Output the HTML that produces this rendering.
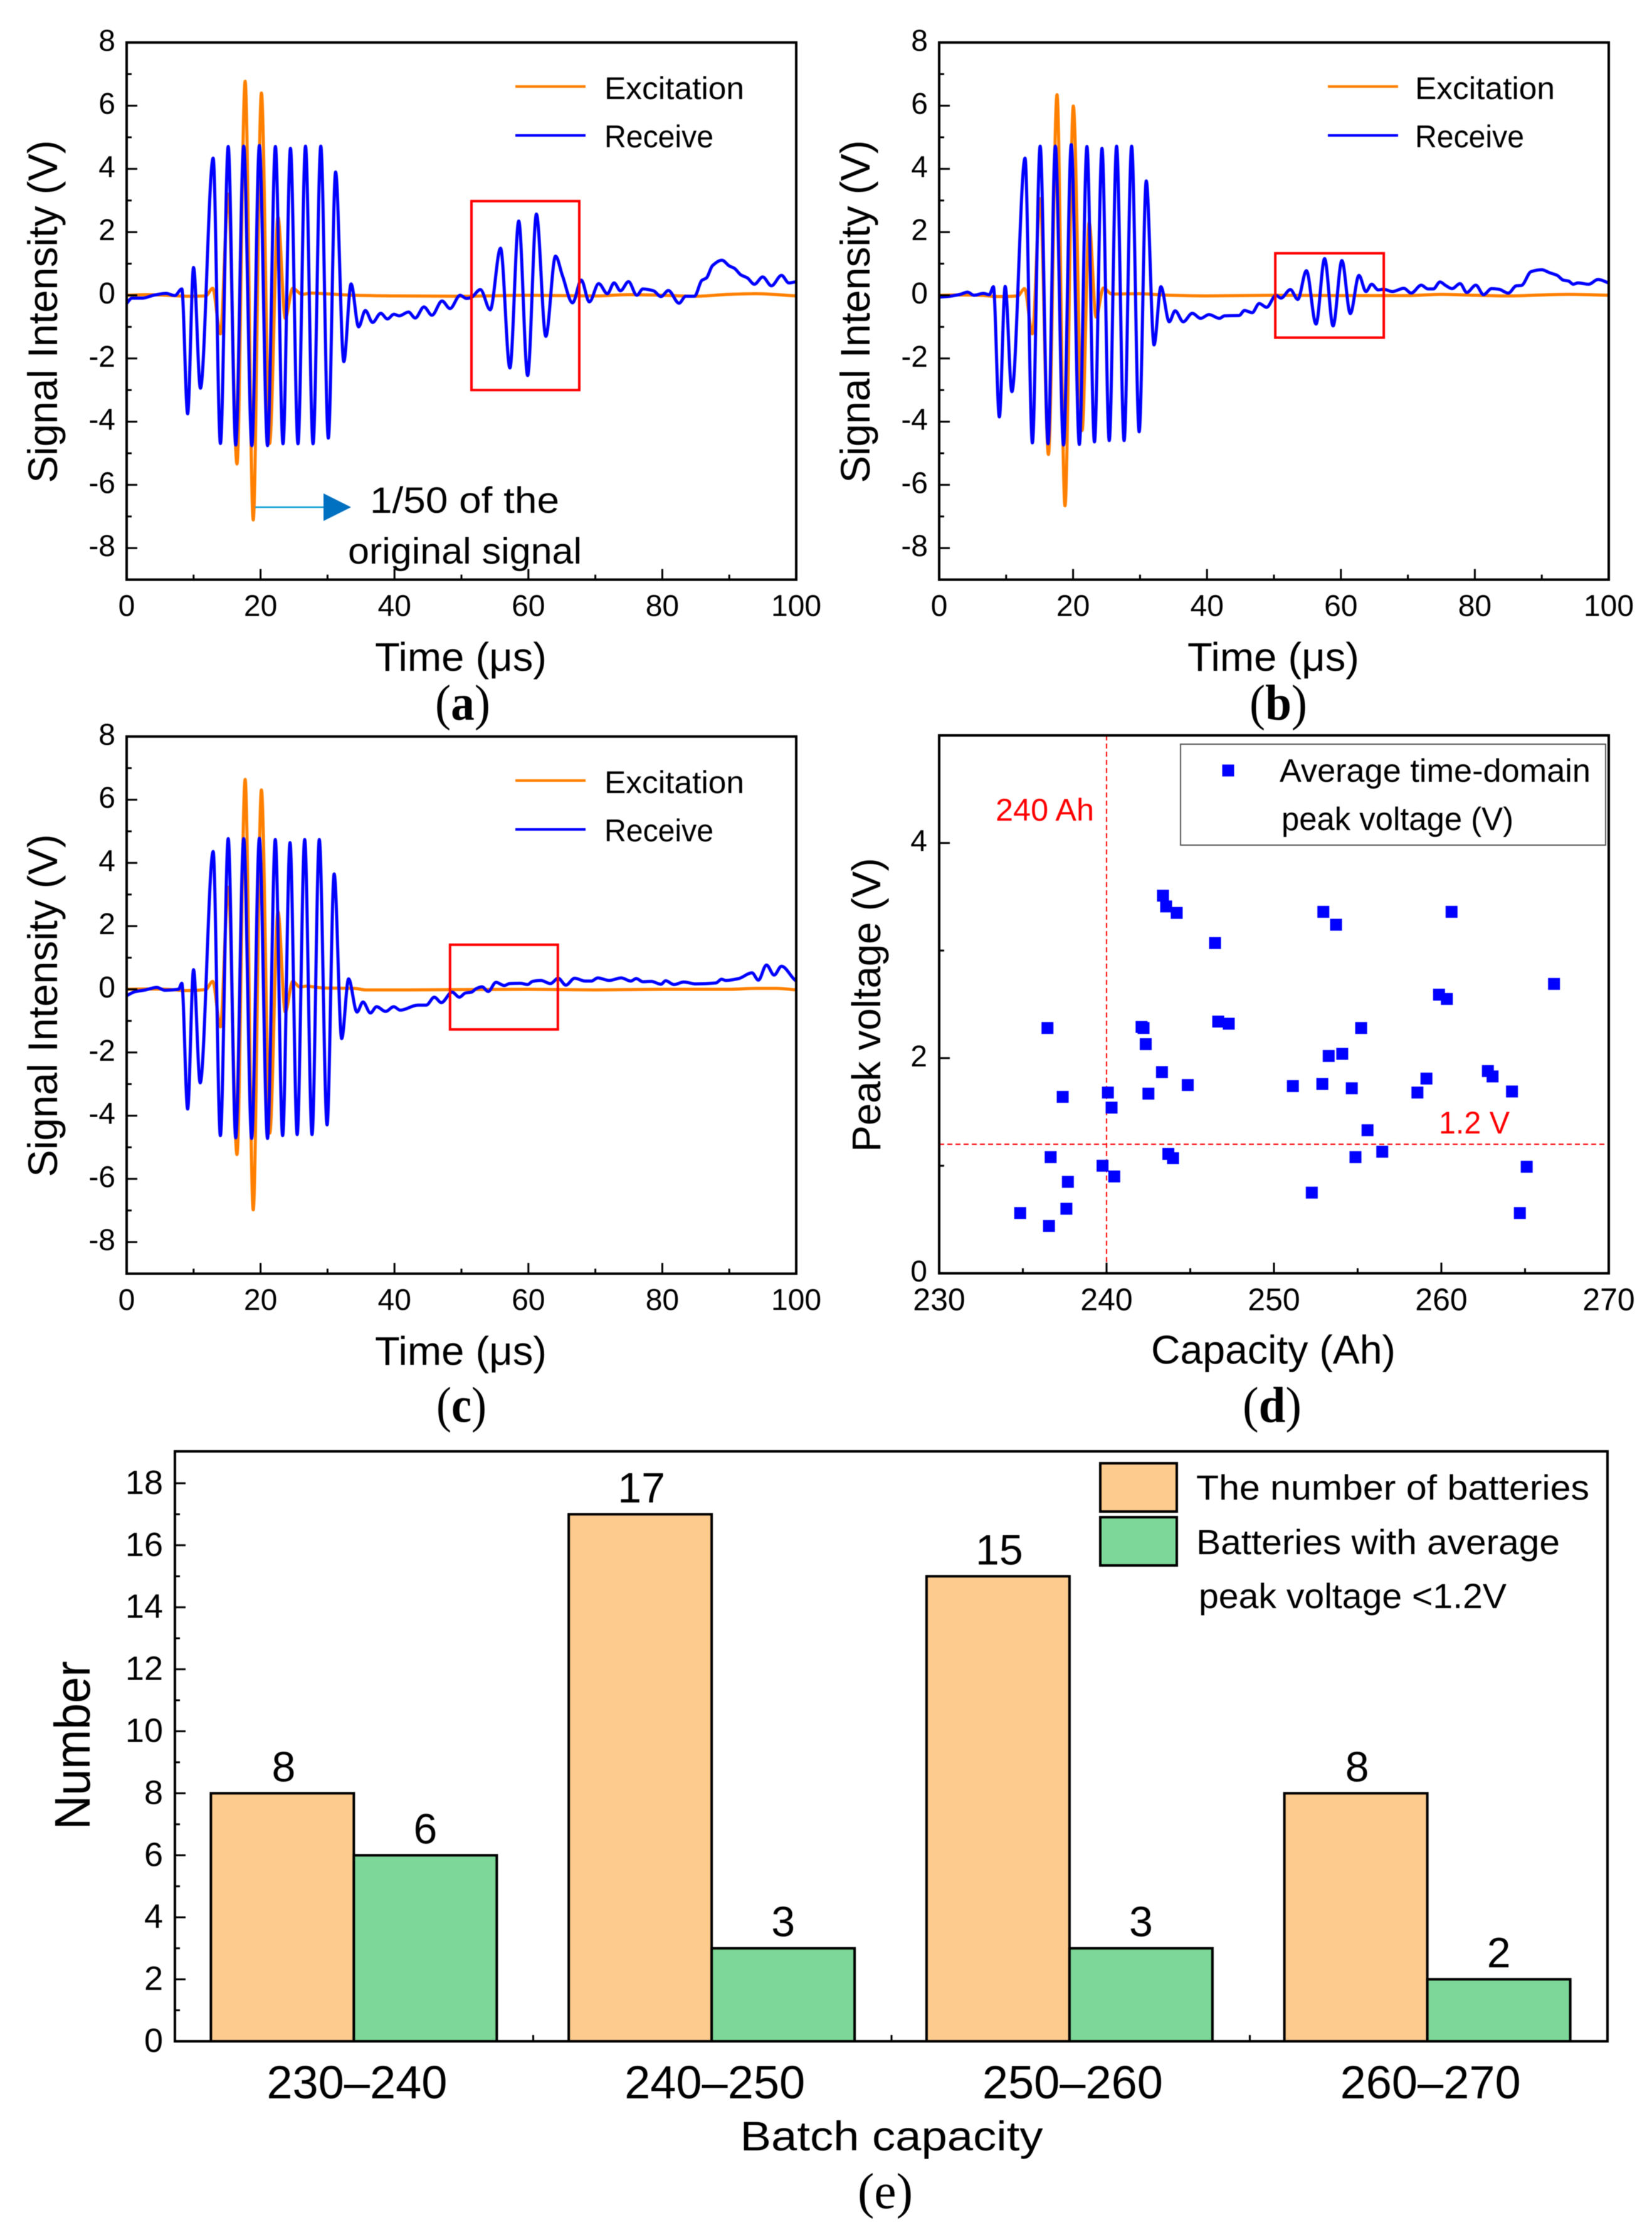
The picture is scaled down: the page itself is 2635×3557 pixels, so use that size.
<!DOCTYPE html>
<html lang="en">
<head>
<meta charset="utf-8">
<title>Ultrasonic signal and peak voltage charts</title>
<style>
html,body{margin:0;padding:0;background:#fff;}
svg{display:block;filter:blur(0.6px);}
text{font-family:"Liberation Sans",sans-serif;fill:#000;}
.serif{font-family:"Liberation Serif",serif;}
.frame{fill:none;stroke:#000;stroke-width:4;}
</style>
</head>
<body>
<svg id="figure" xmlns="http://www.w3.org/2000/svg" width="2635" height="3557" viewBox="0 0 2635 3557">
<rect x="0" y="0" width="2635" height="3557" fill="#fff"/>

<g id="panel-a">
  <text transform="translate(91 497) rotate(-90)" text-anchor="middle" font-size="66" textLength="547" lengthAdjust="spacingAndGlyphs">Signal Intensity (V)</text>
  <text x="735" y="1070" text-anchor="middle" font-size="64" textLength="274" lengthAdjust="spacingAndGlyphs">Time (μs)</text>
  <text class="serif" x="738" y="1148" text-anchor="middle" font-size="80" textLength="88" lengthAdjust="spacingAndGlyphs">(<tspan font-weight="bold" class="serif">a</tspan>)</text>
  <line x1="822" y1="138" x2="934" y2="138" stroke="#ff8000" stroke-width="4"/>
  <text x="964" y="158" font-size="50" textLength="223" lengthAdjust="spacingAndGlyphs">Excitation</text>
  <line x1="822" y1="216" x2="934" y2="216" stroke="#0000ff" stroke-width="4"/>
  <text x="964" y="235" font-size="50" textLength="174" lengthAdjust="spacingAndGlyphs">Receive</text>
  <text x="590" y="818" font-size="58" textLength="302" lengthAdjust="spacingAndGlyphs">1/50 of the</text>
  <text x="555" y="899" font-size="58" textLength="373" lengthAdjust="spacingAndGlyphs">original signal</text>
</g>

<g id="panel-b">
  <text transform="translate(1387 497) rotate(-90)" text-anchor="middle" font-size="66" textLength="547" lengthAdjust="spacingAndGlyphs">Signal Intensity (V)</text>
  <text x="2031" y="1070" text-anchor="middle" font-size="64" textLength="274" lengthAdjust="spacingAndGlyphs">Time (μs)</text>
  <text class="serif" x="2039" y="1148" text-anchor="middle" font-size="80" textLength="92" lengthAdjust="spacingAndGlyphs">(<tspan font-weight="bold" class="serif">b</tspan>)</text>
  <line x1="2118" y1="138" x2="2230" y2="138" stroke="#ff8000" stroke-width="4"/>
  <text x="2257" y="158" font-size="50" textLength="223" lengthAdjust="spacingAndGlyphs">Excitation</text>
  <line x1="2118" y1="216" x2="2230" y2="216" stroke="#0000ff" stroke-width="4"/>
  <text x="2257" y="235" font-size="50" textLength="174" lengthAdjust="spacingAndGlyphs">Receive</text>
</g>

<g id="panel-c">
  <text transform="translate(91 1604) rotate(-90)" text-anchor="middle" font-size="66" textLength="547" lengthAdjust="spacingAndGlyphs">Signal Intensity (V)</text>
  <text x="735" y="2177" text-anchor="middle" font-size="64" textLength="274" lengthAdjust="spacingAndGlyphs">Time (μs)</text>
  <text class="serif" x="736" y="2268" text-anchor="middle" font-size="80" textLength="80" lengthAdjust="spacingAndGlyphs">(<tspan font-weight="bold" class="serif">c</tspan>)</text>
  <line x1="822" y1="1245" x2="934" y2="1245" stroke="#ff8000" stroke-width="4"/>
  <text x="964" y="1265" font-size="50" textLength="223" lengthAdjust="spacingAndGlyphs">Excitation</text>
  <line x1="822" y1="1323" x2="934" y2="1323" stroke="#0000ff" stroke-width="4"/>
  <text x="964" y="1342" font-size="50" textLength="174" lengthAdjust="spacingAndGlyphs">Receive</text>
</g>

<g id="panel-d">
  <text transform="translate(1404 1603) rotate(-90)" text-anchor="middle" font-size="64" textLength="469" lengthAdjust="spacingAndGlyphs">Peak voltage (V)</text>
  <text x="2031" y="2175" text-anchor="middle" font-size="64" textLength="390" lengthAdjust="spacingAndGlyphs">Capacity (Ah)</text>
  <text class="serif" x="2029" y="2268" text-anchor="middle" font-size="80" textLength="94" lengthAdjust="spacingAndGlyphs">(<tspan font-weight="bold" class="serif">d</tspan>)</text>
  <text x="1588" y="1309" font-size="50" fill="#ff0000" style="fill:#ff0000" textLength="157" lengthAdjust="spacingAndGlyphs">240 Ah</text>
  <text x="2295" y="1808" font-size="50" style="fill:#ff0000" textLength="113" lengthAdjust="spacingAndGlyphs">1.2 V</text>
  <rect x="1883" y="1187" width="678" height="161" fill="#fff" stroke="#555" stroke-width="2"/>
  <rect x="1949.5" y="1219.5" width="19" height="19" fill="#0000ff"/>
  <text x="2041" y="1247" font-size="52" textLength="496" lengthAdjust="spacingAndGlyphs">Average time-domain</text>
  <text x="2044" y="1324" font-size="52" textLength="370" lengthAdjust="spacingAndGlyphs">peak voltage (V)</text>
</g>

<g id="panel-e">
  <text transform="translate(143 2784) rotate(-90)" text-anchor="middle" font-size="80" textLength="269" lengthAdjust="spacingAndGlyphs">Number</text>
  <text x="1422" y="3430" text-anchor="middle" font-size="66" textLength="483" lengthAdjust="spacingAndGlyphs">Batch capacity</text>
  <text class="serif" x="1412" y="3522" text-anchor="middle" font-size="80" textLength="88" lengthAdjust="spacingAndGlyphs">(<tspan class="serif">e</tspan>)</text>
  <rect x="1755" y="2334" width="122" height="77" fill="#fdcb8e" stroke="#000" stroke-width="4"/>
  <rect x="1755" y="2420" width="122" height="77" fill="#7dd799" stroke="#000" stroke-width="4"/>
  <text x="1908" y="2392" font-size="56" textLength="627" lengthAdjust="spacingAndGlyphs">The number of batteries</text>
  <text x="1908" y="2479" font-size="56" textLength="580" lengthAdjust="spacingAndGlyphs">Batteries with average</text>
  <text x="1912" y="2565" font-size="56" textLength="491" lengthAdjust="spacingAndGlyphs">peak voltage &lt;1.2V</text>
</g>
</svg>

<script>
// ---------- Panel (a) data ----------
const timeRecvA = [0,0.8,2.4,4,5.9,7.2,8.24,9.11,9.99,11.02,12.92,14.01,15.17,16.29,17.48,18.7,19.82,21.04,22.22,23.35,24.47,25.59,26.71,27.84,29,30.12,31.21,32.43,33.52,34.64,35.65,36.73,37.95,38.95,39.92,40.7,42.1,43.1,44.4,45.6,47.1,48.3,49.8,50.75,51.46,52.83,54.3,55.84,57.24,58.56,59.89,61.2,62.6,64.05,65.1,66.6,67.9,69.1,70.5,71.8,72.8,73.75,74.95,76.2,77.1,78.7,79.8,80.9,82.5,83.5,84.8,85.9,86.6,87.5,88.9,90,90.8,91.7,92.7,93.75,95,96.3,97.8,98.9,100];
const recvA = [-0.26,-0.09,-0.09,0,0.06,-0.01,0.2,-3.75,0.88,-2.94,4.34,-4.69,4.71,-4.74,4.72,-4.76,4.74,-4.76,4.71,-4.7,4.65,-4.7,4.72,-4.7,4.72,-4.52,3.9,-2.1,0.36,-1,-0.48,-0.86,-0.57,-0.75,-0.6,-0.65,-0.53,-0.72,-0.37,-0.63,-0.18,-0.42,0,-0.1,-0.07,0.18,-0.46,1.49,-2.3,2.35,-2.54,2.57,-1.3,1.24,0.61,-0.24,0.48,-0.21,0.37,0.05,0.39,0.14,0.43,0,0.2,0.14,-0.04,0.15,-0.25,-0.03,-0.03,0.47,0.55,0.94,1.11,0.93,0.85,0.65,0.55,0.35,0.58,0.3,0.63,0.39,0.43];
const timeExcA = [0,3,6,9,11.8,12.86,14,15.17,16.48,17.7,18.9,20.13,21.35,22.6,23.69,24.8,26.2,27.6,29.4,31.3,34,40,50,60,70,75,80,85,90,94,100];
const excA = [0,0.02,0,-0.03,-0.02,0.22,-1.22,3.2,-5.34,6.77,-7.11,6.4,-4.69,2.48,-0.73,0.22,0.03,0.07,0.05,0.03,0,-0.02,-0.03,0,-0.02,0.02,0,-0.03,0.03,0.05,-0.02];

// ---------- Panel (b) data ----------
const timeRecvB = [0,1.6,3.15,4.25,5.2,6.6,7.5,8.1,8.99,9.86,10.86,12.83,13.92,15.08,16.26,17.35,18.57,19.73,20.94,22.07,23.19,24.32,25.4,26.5,27.62,28.75,29.87,30.93,32.09,33.12,34.36,35.24,36.45,37.8,39.05,40.3,41.85,42.63,44.8,45.6,46.75,47.8,48.9,50.3,51.05,52.45,53.56,54.85,56.28,57.57,58.83,60.15,61.4,62.7,63.74,64.6,65.56,66.35,67.7,69.4,70.5,72,73,73.8,74.8,75.65,76.6,77.8,78.8,80.15,81.3,82.5,83.6,85,86.2,86.95,88.4,90,91.1,92.3,93.2,94,94.7,95.4,97,98.4,100];
const recvB = [-0.06,-0.03,0.03,0.1,0,0.06,0.02,0.27,-3.85,0.28,-3.05,4.34,-4.67,4.72,-4.7,4.72,-4.74,4.77,-4.72,4.71,-4.64,4.65,-4.6,4.72,-4.6,4.72,-4.32,3.62,-1.57,0.27,-0.84,-0.49,-0.84,-0.57,-0.73,-0.61,-0.73,-0.65,-0.64,-0.48,-0.55,-0.26,-0.38,0,-0.09,0.18,-0.13,0.78,-0.91,1.16,-0.97,1.1,-0.58,0.63,0.12,0.35,0.17,0.19,0.12,0.22,0.07,0.32,0.2,0.2,0.42,0.31,0.21,0.37,0.09,0.32,0.02,0.21,0.19,0.07,0.3,0.31,0.75,0.81,0.72,0.63,0.48,0.45,0.35,0.39,0.35,0.5,0.39];
const timeExcB = [0,3,6,9,11.73,12.76,13.92,15.08,16.32,17.6,18.79,20.04,21.35,22.4,23.44,24.53,25.8,29.8,34.5,40,50,60,70,75,80,85,90,94,100];
const excB = [0,0.01,0,-0.04,-0.02,0.21,-1.22,3.06,-5.04,6.35,-6.66,5.99,-4.28,2.3,-0.69,0.23,0.04,0.05,0,-0.02,0,-0.01,-0.01,0.03,0,-0.02,0.01,0.03,0];

// ---------- Panel (c) data ----------
const timeRecvC = [0,1.2,2.8,4.5,5.7,7.75,8.24,9.11,9.99,10.98,12.92,14,15.17,16.29,17.48,18.67,19.82,21.04,22.2,23.3,24.4,25.47,26.59,27.69,28.77,29.93,30.99,32.12,33.15,34.4,35.3,36.4,37.33,38.67,39.9,40.85,43.5,44.75,45.95,47,48.6,49.7,50.57,51.5,52.2,53.08,54,55.16,56.4,57.2,58.8,59.9,60.6,61.85,63.3,64.45,65.6,66.9,68.5,69.4,70.35,72.07,73.87,75.3,76.1,77.1,78.35,79.8,80.5,81.75,83.2,85,88,88.85,89.45,91.4,93.4,94.35,95.55,96.7,97.8,99.9,100];
const recvC = [-0.2,-0.08,-0.02,0.06,-0.03,0,0.19,-3.79,0.62,-2.96,4.36,-4.63,4.77,-4.7,4.77,-4.72,4.78,-4.72,4.74,-4.63,4.64,-4.6,4.74,-4.6,4.74,-4.29,3.65,-1.56,0.33,-0.72,-0.4,-0.75,-0.55,-0.7,-0.55,-0.66,-0.5,-0.5,-0.25,-0.42,-0.09,-0.25,-0.12,-0.09,0.02,0.08,-0.07,0.22,0.12,0.18,0.19,0.15,0.25,0.28,0.18,0.35,0.13,0.35,0.26,0.26,0.36,0.28,0.36,0.26,0.34,0.24,0.25,0.16,0.27,0.15,0.23,0.17,0.2,0.32,0.28,0.34,0.52,0.29,0.77,0.45,0.73,0.28,0.27];
const timeExcC = [0,3,6,9,11.8,12.86,14,15.17,16.48,17.7,18.9,20.13,21.38,22.6,23.69,24.8,25.9,26.8,29.5,34,35.7,42,50,60,70,80,90,94,97,100];
const excC = [0,0.01,0,-0.04,-0.01,0.25,-1.19,3.23,-5.23,6.64,-6.98,6.31,-4.55,2.46,-0.72,0.25,0.07,0.1,0.04,0.03,-0.02,-0.02,-0.01,0,-0.02,0,0,0.03,0.03,-0.02];

// ---------- Shared signal-axis ticks ----------
const timeTicks = ['0','20','40','60','80','100'];
const timeMinorTicks = [10,30,50,70,90];
const voltTicks = ['-8','-6','-4','-2','0','2','4','6','8'];
const voltMinorTicks = [-7,-5,-3,-1,1,3,5,7];

// ---------- Highlight rectangles (data coordinates: t0,t1,v0,v1) ----------
const boxRangeA = [51.5,67.6,-3.0,2.98];
const boxRangeB = [50.2,66.4,-1.34,1.33];
const boxRangeC = [48.3,64.4,-1.27,1.41];

// ---------- Panel (d) data ----------
const capacity = [234.84,236.56,237.6,237.69,236.66,236.47,237.38,240.08,240.3,239.76,240.46,242.09,242.21,242.34,242.5,243.31,243.37,243.56,244.19,244.85,246.48,246.67,247.3,243.69,243.97,251.13,252.26,252.89,252.95,253.71,253.27,254.08,254.65,255.21,254.87,255.59,256.47,258.57,259.11,259.86,260.33,260.61,262.78,263.06,264.22,264.69,265.1,266.73];
const peakVoltage = [0.56,0.44,0.6,0.85,1.08,2.28,1.64,1.68,1.54,1,0.9,2.29,2.28,2.13,1.67,1.87,3.51,3.41,3.35,1.75,3.07,2.34,2.32,1.11,1.07,1.74,0.75,1.76,3.36,3.24,2.02,2.04,1.72,2.28,1.08,1.33,1.13,1.68,1.81,2.59,2.55,3.36,1.88,1.83,1.69,0.56,0.99,2.69];
const capacityTicks = ['230','240','250','260','270'];
const capacityMinorTicks = [235,245,255,265];
const peakTicks = ['0','2','4'];
const peakMinorTicks = [1,3];
const capacityRef = 240;
const voltageRef = 1.2;

// ---------- Panel (e) data ----------
const batchLabels = ['230–240','240–250','250–260','260–270'];
const batteryCounts = [8,17,15,8];
const lowPeakCounts = [6,3,3,2];
const countTicks = ['0','2','4','6','8','10','12','14','16','18'];
const countMinorTicks = [1,3,5,7,9,11,13,15,17];

// ---------- Helpers ----------
const NS = 'http://www.w3.org/2000/svg';
function make(tag, attrs, parent) {
  const node = document.createElementNS(NS, tag);
  for (const k in attrs) node.setAttribute(k, attrs[k]);
  parent.appendChild(node);
  return node;
}
function smoothPath(xs, ys) {
  const n = xs.length, slope = [], tan = [];
  for (let i = 0; i < n - 1; i++) slope.push((ys[i+1] - ys[i]) / (xs[i+1] - xs[i]));
  tan.push(slope[0]);
  for (let i = 1; i < n - 1; i++) {
    tan.push(slope[i-1] * slope[i] <= 0 ? 0 : 2 * slope[i-1] * slope[i] / (slope[i-1] + slope[i]));
  }
  tan.push(slope[n-2]);
  let d = 'M' + xs[0].toFixed(1) + ' ' + ys[0].toFixed(1);
  for (let i = 0; i < n - 1; i++) {
    const h = (xs[i+1] - xs[i]) / 3;
    d += 'C' + (xs[i] + h).toFixed(1) + ' ' + (ys[i] + tan[i] * h).toFixed(1) + ' ' +
         (xs[i+1] - h).toFixed(1) + ' ' + (ys[i+1] - tan[i+1] * h).toFixed(1) + ' ' +
         xs[i+1].toFixed(1) + ' ' + ys[i+1].toFixed(1);
  }
  return d;
}
function linear(d0, d1, r0, r1) {
  return v => r0 + (v - d0) * (r1 - r0) / (d1 - d0);
}
function drawTickX(parent, px, yBottom, len) {
  const t = make('line', {x1: px, x2: px, y1: yBottom, y2: yBottom - len, stroke: '#000', 'stroke-width': 3}, parent);
  
  
}
function drawTickY(parent, py, xLeft, len) {
  const t = make('line', {x1: xLeft, x2: xLeft + len, y1: py, y2: py, stroke: '#000', 'stroke-width': 3}, parent);
  
  
}
function drawLabel(parent, px, py, str, size, anchor, name) {
  const t = make('text', {x: px, y: py, 'font-size': size, 'text-anchor': anchor}, parent);
  t.textContent = str;
  
  
}
function drawFrame(parent, x0, y0, x1, y1) {
  const f = make('rect', {x: x0, y: y0, width: x1 - x0, height: y1 - y0, class: 'frame'}, parent);
  
  
}

// ---------- Signal panels ----------
function drawSignal(id, left, zeroY, tExc, vExc, tRecv, vRecv, box) {
  const g = document.getElementById(id);
  const pxPerUs = 10.68, pxPerV = 50.4;
  const right = left + 100 * pxPerUs;
  const top = zeroY - 8 * pxPerV, bottom = zeroY + 9 * pxPerV;
  const X = linear(0, 100, left, right);
  const Y = linear(0, 1, zeroY, zeroY - pxPerV);

  const exc = make('path', {d: smoothPath(tExc.map(X), vExc.map(Y)), fill: 'none', stroke: '#ff8000', 'stroke-width': 5, 'stroke-linejoin': 'round'}, g);
  
  
  const recv = make('path', {d: smoothPath(tRecv.map(X), vRecv.map(Y)), fill: 'none', stroke: '#0000ff', 'stroke-width': 5, 'stroke-linejoin': 'round'}, g);
  
  

  const hi = make('rect', {x: X(box[0]), y: Y(box[3]), width: X(box[1]) - X(box[0]), height: Y(box[2]) - Y(box[3]), fill: 'none', stroke: '#ff0000', 'stroke-width': 4}, g);
  
  

  timeTicks.forEach(s => {
    const v = Number(s);
    drawTickX(g, X(v), bottom, 17);
    drawLabel(g, X(v), bottom + 58, s, 48, 'middle', 'x-tick-label');
  });
  timeMinorTicks.forEach(v => drawTickX(g, X(v), bottom, 8));
  voltTicks.forEach(s => {
    const v = Number(s);
    drawTickY(g, Y(v), left, 17);
    drawLabel(g, left - 18, Y(v) + 13, s, 48, 'end', 'y-tick-label');
  });
  voltMinorTicks.forEach(v => drawTickY(g, Y(v), left, 8));
  drawFrame(g, left, top, right, bottom);
}
drawSignal('panel-a', 202, 471, timeExcA, excA, timeRecvA, recvA, boxRangeA);
drawSignal('panel-b', 1498, 471, timeExcB, excB, timeRecvB, recvB, boxRangeB);
drawSignal('panel-c', 202, 1578, timeExcC, excC, timeRecvC, recvC, boxRangeC);

// annotation arrow on panel (a)
(function () {
  const g = document.getElementById('panel-a');
  const shaft = make('line', {x1: 407, y1: 809, x2: 516, y2: 809, stroke: '#0a9bd6', 'stroke-width': 2.5}, g);
  
  
  const head = make('polygon', {points: '516,787 560,809 516,831', fill: '#0070c0'}, g);
  
  
})();

// ---------- Scatter panel ----------
(function () {
  const g = document.getElementById('panel-d');
  const left = 1498, right = 2566, top = 1173, bottom = 2031;
  const X = linear(230, 270, left, right);
  const Y = linear(0, 5, bottom, top);

  const vRef = make('line', {x1: X(capacityRef), x2: X(capacityRef), y1: top, y2: bottom, stroke: '#ff0000', 'stroke-width': 2, 'stroke-dasharray': '8 5'}, g);
  
  
  const hRef = make('line', {x1: left, x2: right, y1: Y(voltageRef), y2: Y(voltageRef), stroke: '#ff0000', 'stroke-width': 2, 'stroke-dasharray': '8 5'}, g);
  
  

  capacity.forEach((c, i) => {
    const m = make('rect', {x: X(c) - 9.5, y: Y(peakVoltage[i]) - 9.5, width: 19, height: 19, fill: '#0000ff'}, g);
    
    
  });
  capacityTicks.forEach(s => {
    const v = Number(s);
    drawTickX(g, X(v), bottom, 17);
    drawLabel(g, X(v), bottom + 59, s, 50, 'middle', 'x-tick-label');
  });
  capacityMinorTicks.forEach(v => drawTickX(g, X(v), bottom, 8));
  peakTicks.forEach(s => {
    const v = Number(s);
    drawTickY(g, Y(v), left, 17);
    drawLabel(g, left - 19, Y(v) + 13, s, 48, 'end', 'y-tick-label');
  });
  peakMinorTicks.forEach(v => drawTickY(g, Y(v), left, 8));
  drawFrame(g, left, top, right, bottom);
})();

// ---------- Bar panel ----------
(function () {
  const g = document.getElementById('panel-e');
  const left = 279, right = 2562, top = 2315, bottom = 3256;
  const groupWidth = (right - left) / batchLabels.length;
  const barWidth = 228;
  const Y = linear(0, 18, bottom, bottom - 18 * 49.45);
  const center = i => left + (i + 0.5) * groupWidth;

  batchLabels.forEach((label, i) => {
    const a = make('rect', {x: center(i) - barWidth, y: Y(batteryCounts[i]), width: barWidth, height: bottom - Y(batteryCounts[i]), fill: '#fdcb8e', stroke: '#000', 'stroke-width': 4}, g);
    
    
    const b = make('rect', {x: center(i), y: Y(lowPeakCounts[i]), width: barWidth, height: bottom - Y(lowPeakCounts[i]), fill: '#7dd799', stroke: '#000', 'stroke-width': 4}, g);
    
    
    drawLabel(g, center(i) - barWidth / 2 + 2, Y(batteryCounts[i]) - 19, String(batteryCounts[i]), 68, 'middle', 'bar-value-total');
    drawLabel(g, center(i) + barWidth / 2, Y(lowPeakCounts[i]) - 19, String(lowPeakCounts[i]), 68, 'middle', 'bar-value-low-peak');
    drawLabel(g, center(i) + 5, 3347, label, 74, 'middle', 'category-label');
    if (i > 0) drawTickX(g, left + i * 571.5, bottom, 10);
  });
  countTicks.forEach(s => {
    const v = Number(s);
    drawTickY(g, Y(v), left, 17);
    drawLabel(g, left - 19, Y(v) + 17, s, 54, 'end', 'y-tick-label');
  });
  countMinorTicks.forEach(v => drawTickY(g, Y(v), left, 8));
  drawFrame(g, left, top, 2564, bottom);
})();
</script>
</body>
</html>
